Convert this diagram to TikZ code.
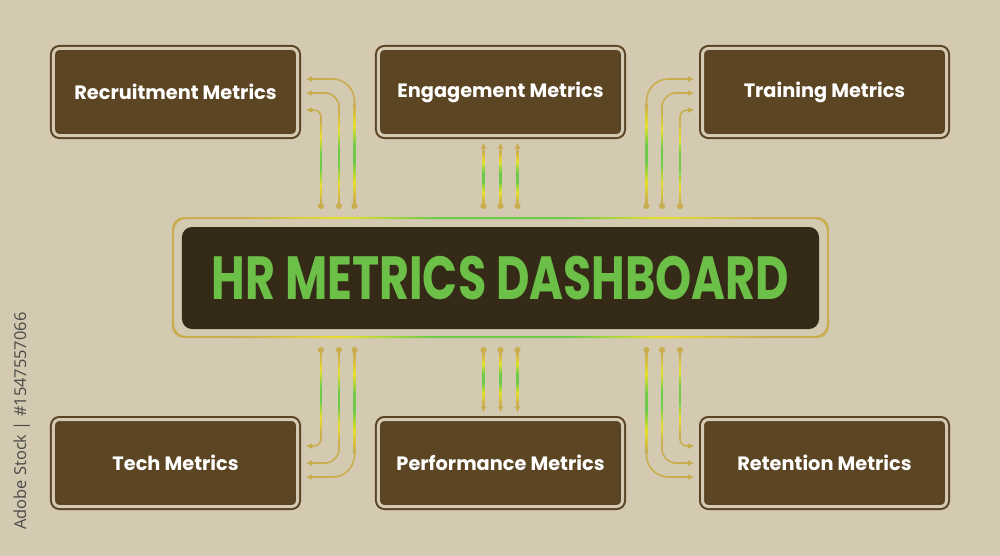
\documentclass[tikz,border=0pt]{standalone}
\usepackage{fontspec}
\usepackage{xcolor}
\usepackage{tikz}
\usetikzlibrary{arrows.meta}

\newfontfamily\labelfont{Poppins}
\newfontfamily\titlefont{Poppins}[FakeStretch=0.755]
\newfontfamily\markfont{Open Sans}

\definecolor{bgbeige}{HTML}{D4C9B1}
\definecolor{boxbrown}{HTML}{5C4522}
\definecolor{edgebrown}{HTML}{5A4325}
\definecolor{hubdark}{HTML}{342A17}
\definecolor{titlegreen}{HTML}{6CBF47}
\definecolor{wiregold}{HTML}{C9AE50}
\definecolor{wireyellow}{HTML}{E6DF2E}
\definecolor{wiregreen}{HTML}{6DCB4B}
\definecolor{markgray}{HTML}{4A4A48}

\pgfdeclareverticalshading{wiregrad}{100bp}{color(0bp)=(wiregold); color(26bp)=(wiregold);
  color(36bp)=(wireyellow); color(46bp)=(wiregreen); color(54bp)=(wiregreen);
  color(64bp)=(wireyellow); color(74bp)=(wiregold); color(100bp)=(wiregold)}
\pgfdeclarehorizontalshading{framegrad}{100bp}{color(0bp)=(wiregold); color(30bp)=(wiregold);
  color(38bp)=(wireyellow); color(45bp)=(wiregreen); color(55bp)=(wiregreen);
  color(62bp)=(wireyellow); color(70bp)=(wiregold); color(100bp)=(wiregold)}

\tikzset{
  metricbox/.style={fill=boxbrown, draw=edgebrown, double=bgbeige, double distance=0.09cm,
    line width=0.06cm, rounded corners=0.18cm, minimum width=7.32cm, minimum height=2.61cm,
    inner sep=0pt, outer sep=0pt, text=white, font=\labelfont\bfseries\fontsize{16.5}{19}\selectfont},
  hubbox/.style={fill=hubdark, rounded corners=0.3cm, minimum width=19.11cm, minimum height=3.06cm,
    inner sep=0pt, outer sep=0pt, text=titlegreen, font=\titlefont\bfseries\fontsize{52}{60}\selectfont},
  wire/.style={draw=wiregold, line width=0.048cm,
    {Circle[length=0.18cm]}-{Triangle[length=0.18cm, width=0.15cm]}},
}

\begin{document}
\begin{tikzpicture}[x=0.03cm, y=-0.03cm]
    % background
    \fill[bgbeige] (0,0) rectangle (1000,556);
    \useasboundingbox (0,0) rectangle (1000,556);

    % centre panel
    \node[hubbox] (dash) at (500.5,278) {HR METRICS DASHBOARD};
    \node[minimum width=19.71cm, minimum height=3.63cm, inner sep=0pt, outer sep=0pt] (hubframe) at (500.5,277.5) {};
    \shade[shading=framegrad, even odd rule, rounded corners=0.36cm]
        (hubframe.north west) rectangle (hubframe.south east)
        ([shift={(2,2)}]hubframe.north west) rectangle ([shift={(-2,-2)}]hubframe.south east);
    \coordinate (topbus) at (500.5,209);
    \coordinate (botbus) at (500.5,347);

    % metric boxes
    \node[metricbox] (recruit) at (175.5,92) {Recruitment Metrics};
    \node[metricbox] (engage) at (500.5,92) {Engagement Metrics};
    \node[metricbox] (train) at (824.5,92) {Training Metrics};
    \node[metricbox] (tech) at (175.5,463) {Tech Metrics};
    \node[metricbox] (perf) at (500.5,463) {Performance Metrics};
    \node[metricbox] (retain) at (824.5,463) {Retention Metrics};

    % wires to the top row
    \foreach \x/\dy/\r/\ya in {354.5/-13/22/103, 339/1/14/109, 321/18/7/119}{
        \draw[wire] (\x,0 |- topbus) [rounded corners=\r*0.03cm] |- ([shift={(8.5,\dy)}]recruit.east);
        \shade[shading=wiregrad] (\x-0.8,\ya) rectangle (\x+0.8,204);
    }
    \foreach \x/\dy/\r/\ya in {646.5/-13/22/103, 662/1/14/109, 680/18/7/119}{
        \draw[wire] (\x,0 |- topbus) [rounded corners=\r*0.03cm] |- ([shift={(-8.5,\dy)}]train.west);
        \shade[shading=wiregrad] (\x-0.8,\ya) rectangle (\x+0.8,204);
    }
    \foreach \dx in {-17,0,17}{
        \draw[wire] ([shift={(\dx,0)}]topbus) -- ([shift={(\dx,7.5)}]engage.south);
        \shade[shading=wiregrad] (500.5+\dx-0.8,150) rectangle (500.5+\dx+0.8,204);
    }

    % wires to the bottom row
    \foreach \x/\dy/\r/\yb in {354.5/14/22/453, 339/0/14/446, 321/-17/7/436}{
        \draw[wire] (\x,0 |- botbus) [rounded corners=\r*0.03cm] |- ([shift={(8.5,\dy)}]tech.east);
        \shade[shading=wiregrad] (\x-0.8,352) rectangle (\x+0.8,\yb);
    }
    \foreach \x/\dy/\r/\yb in {646.5/14/22/453, 662/0/14/446, 680/-17/7/436}{
        \draw[wire] (\x,0 |- botbus) [rounded corners=\r*0.03cm] |- ([shift={(-8.5,\dy)}]retain.west);
        \shade[shading=wiregrad] (\x-0.8,352) rectangle (\x+0.8,\yb);
    }
    \foreach \dx in {-17,0,17}{
        \draw[wire] ([shift={(\dx,0)}]botbus) -- ([shift={(\dx,-7.5)}]perf.north);
        \shade[shading=wiregrad] (500.5+\dx-0.8,352) rectangle (500.5+\dx+0.8,405);
    }

    % stock id along the left edge
    \node[rotate=90, text=markgray, font=\markfont\fontsize{14}{16}\selectfont] (stockid) at (22,421) {Adobe Stock | \#1547557066};
\end{tikzpicture}
\end{document}
